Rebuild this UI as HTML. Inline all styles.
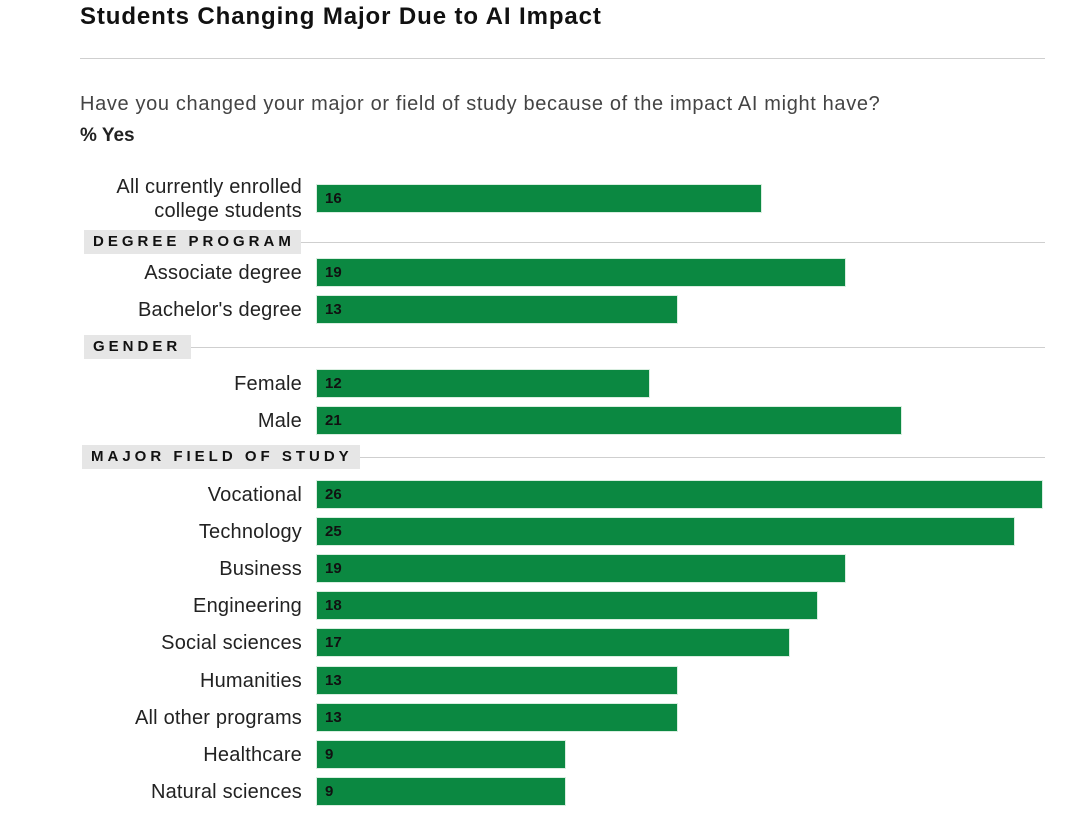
<!DOCTYPE html>
<html><head><meta charset="utf-8"><style>
body{margin:0;width:1080px;height:839px;background:#fff;font-family:"Liberation Sans",sans-serif;position:relative;overflow:hidden}
.a{position:absolute}
.lbl{position:absolute;right:778px;font-size:20px;color:#222;text-align:right;line-height:24px;white-space:nowrap;letter-spacing:0.2px}
.bar{position:absolute;left:317px;height:27px;background:#0b8841;box-shadow:0 0 0 1px #d9eee0}
.val{position:absolute;left:8px;top:5px;font-size:15px;font-weight:bold;color:#111}
.hdr{position:absolute;background:#e6e6e6;font-size:15px;font-weight:bold;letter-spacing:4px;color:#111;line-height:24px;padding-left:9px}
.line{position:absolute;height:1px;background:#cfcfcf}
</style></head><body>
<div class="a" style="left:80px;top:3px;font-size:24px;font-weight:bold;color:#111;letter-spacing:0.9px">Students Changing Major Due to AI Impact</div>
<div class="line" style="left:80px;top:58px;width:965px"></div>
<div class="a" style="left:80px;top:93px;font-size:20px;color:#444;letter-spacing:0.65px">Have you changed your major or field of study because of the impact AI might have?</div>
<div class="a" style="left:80px;top:125px;font-size:19px;font-weight:bold;color:#222">% Yes</div>
<div id="chart"></div>
<script>
const categories=["All currently enrolled<br>college students","Associate degree","Bachelor's degree","Female","Male","Vocational","Technology","Business","Engineering","Social sciences","Humanities","All other programs","Healthcare","Natural sciences"];
const values=[16,19,13,12,21,26,25,19,18,17,13,13,9,9];
const rowCenters=[198,272,309,383,420,494,531,568,605,642,680,717,754,791];
const sections=["DEGREE PROGRAM","GENDER","MAJOR FIELD OF STUDY"];
const sectionY=[230,335,445];
const sectionW=[217,107,278];
const sectionX=[84,84,82];
const origin=312, scale=28.06, barLeft=317;
const xs=v=>origin+v*scale;
const c=document.getElementById('chart');
categories.forEach((cat,i)=>{
  const l=document.createElement('div');l.className='lbl';
  
  
  l.innerHTML=cat;
  const lines=cat.split('<br>').length;
  l.style.top=(rowCenters[i]-12*lines+1)+'px';
  c.appendChild(l);
  const b=document.createElement('div');b.className='bar';
  
  
  b.style.top=(rowCenters[i]-13.5)+'px';b.style.width=(xs(values[i])-barLeft)+'px';
  const v=document.createElement('span');v.className='val';v.textContent=values[i];
  
  
  b.appendChild(v);c.appendChild(b);
});
sections.forEach((s,i)=>{
  const ln=document.createElement('div');ln.className='line';
  
  
  ln.style.left=(sectionX[i]+sectionW[i])+'px';ln.style.top=(sectionY[i]+12)+'px';ln.style.width=(1045-sectionX[i]-sectionW[i])+'px';
  c.appendChild(ln);
  const h=document.createElement('div');h.className='hdr';
  
  
  h.textContent=s;h.style.left=sectionX[i]+'px';h.style.top=sectionY[i]+'px';h.style.width=(sectionW[i]-9)+'px';
  c.appendChild(h);
});
</script>
</body></html>
